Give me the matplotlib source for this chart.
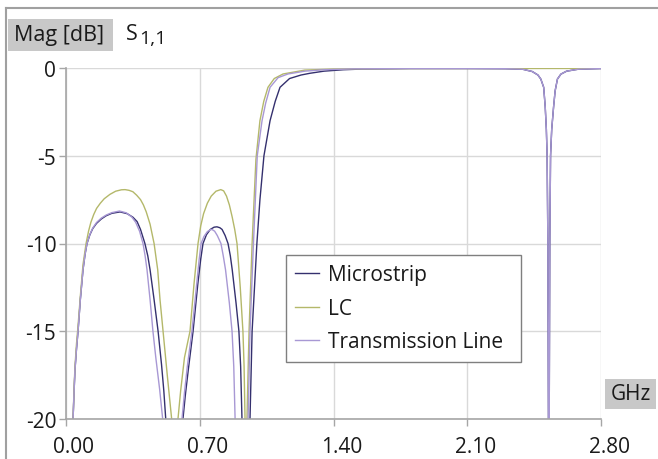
import matplotlib
matplotlib.use("Agg")
import matplotlib.pyplot as plt
from matplotlib.lines import Line2D
from matplotlib.patches import Rectangle
from matplotlib.ticker import FixedLocator, FormatStrFormatter
from matplotlib.transforms import ScaledTranslation

plt.rcParams['font.family'] = ['Open Sans', 'DejaVu Sans']
plt.rcParams['axes.unicode_minus'] = False

# ---------------- data (GHz, dB) ----------------
series_names = ["Microstrip", "LC", "Transmission Line"]

notch_f = [2.300, 2.390, 2.440, 2.470, 2.485, 2.500, 2.508, 2.514, 2.518, 2.522,
           2.525, 2.527, 2.529, 2.532, 2.536, 2.542, 2.552, 2.560, 2.572, 2.590,
           2.620, 2.680, 2.800]
notch_db = [-0.04, -0.07, -0.2, -0.4, -0.63, -1.1, -2.2, -3.5, -5.0, -10.0,
            -20.0, -40.0, -20.0, -10.0, -5.0, -3.5, -2.2, -1.3, -0.63, -0.35,
            -0.18, -0.07, -0.03]

ms_f = [0.000, 0.025, 0.037, 0.042, 0.047, 0.055, 0.063, 0.075, 0.089, 0.100,
        0.110, 0.125, 0.140, 0.160, 0.185, 0.210, 0.240, 0.283, 0.320, 0.350,
        0.372, 0.390, 0.413, 0.428, 0.440, 0.461, 0.482, 0.500, 0.512, 0.522,
        0.540, 0.565, 0.590,
        0.612, 0.625, 0.640, 0.665, 0.690, 0.705, 0.717, 0.735, 0.755, 0.775,
        0.790, 0.805, 0.817, 0.833, 0.848, 0.860, 0.870, 0.890, 0.905, 0.914,
        0.921, 0.935, 0.945, 0.955, 0.963, 0.974, 0.999, 1.015, 1.036, 1.068,
        1.095, 1.120, 1.170, 1.230, 1.277, 1.350, 1.450, 1.550, 1.800, 2.100] + notch_f
ms_db = [-45.0, -30.0, -20.0, -18.5, -17.2, -16.0, -15.0, -13.2, -11.5, -10.6,
         -10.0, -9.5, -9.15, -8.85, -8.6, -8.42, -8.28, -8.2, -8.3, -8.5,
         -8.75, -9.2, -10.0, -10.7, -11.5, -13.2, -15.0, -16.9, -18.4, -20.0,
         -28.0, -40.0, -28.0,
         -20.0, -18.6, -17.2, -15.0, -12.3, -10.9, -10.0, -9.5, -9.2, -9.07,
         -9.05, -9.1, -9.2, -9.55, -10.0, -10.7, -11.5, -13.4, -15.0, -17.0,
         -20.0, -30.0, -40.0, -30.0, -20.0, -15.0, -10.0, -7.5, -5.0, -3.0,
         -1.9, -1.1, -0.6, -0.4, -0.3, -0.18, -0.1, -0.06, -0.03, -0.03] + notch_db

tl_f = [0.000, 0.025, 0.037, 0.042, 0.047, 0.055, 0.063, 0.075, 0.089, 0.100,
        0.110, 0.125, 0.140, 0.160, 0.185, 0.210, 0.240, 0.280, 0.315, 0.345,
        0.365, 0.385, 0.403, 0.414, 0.424, 0.440, 0.455, 0.470, 0.490, 0.506,
        0.525, 0.555, 0.585,
        0.607, 0.620, 0.635, 0.659, 0.685, 0.697, 0.707, 0.722, 0.740, 0.755,
        0.764, 0.778, 0.792, 0.811, 0.823, 0.835, 0.855, 0.869, 0.878, 0.885,
        0.895, 0.905, 0.930, 0.953, 0.963, 0.981, 1.001, 1.026, 1.045,
        1.068, 1.110, 1.162, 1.250, 1.350, 1.500, 1.800, 2.100] + notch_f
tl_db = [-45.0, -30.0, -20.0, -18.5, -17.2, -16.0, -15.0, -13.2, -11.5, -10.6,
         -10.0, -9.48, -9.12, -8.8, -8.55, -8.38, -8.24, -8.15, -8.25, -8.5,
         -8.8, -9.3, -10.0, -10.7, -11.5, -13.2, -15.0, -16.5, -18.3, -20.0,
         -28.0, -40.0, -28.0,
         -20.0, -18.5, -17.0, -15.0, -12.2, -10.9, -10.0, -9.6, -9.32, -9.22,
         -9.2, -9.3, -9.55, -10.0, -10.7, -11.5, -13.4, -15.0, -17.0, -20.0,
         -30.0, -40.0, -30.0, -20.0, -15.0, -10.0, -5.0, -3.0, -2.0,
         -1.1, -0.55, -0.34, -0.18, -0.1, -0.05, -0.03, -0.03] + notch_db

lc_f = [0.000, 0.025, 0.037, 0.042, 0.047, 0.055, 0.063, 0.075, 0.089, 0.105,
        0.118, 0.130, 0.145, 0.160, 0.180, 0.200, 0.230, 0.260, 0.290, 0.309,
        0.330, 0.350, 0.370, 0.390, 0.405, 0.420, 0.440, 0.461, 0.480, 0.492,
        0.508, 0.530, 0.553, 0.560, 0.570, 0.578,
        0.586, 0.600, 0.620, 0.649, 0.670, 0.691, 0.705, 0.720, 0.740, 0.760,
        0.785, 0.810, 0.825, 0.840, 0.855, 0.870, 0.883, 0.895, 0.912, 0.926,
        0.932, 0.937, 0.940, 0.942, 0.944, 0.947, 0.958, 0.974, 0.994, 1.015,
        1.035, 1.057, 1.090, 1.136, 1.250, 1.397, 1.800, 2.800]
lc_db = [-45.0, -30.0, -20.0, -18.3, -17.0, -15.7, -14.7, -13.0, -11.2, -10.0,
         -9.3, -8.8, -8.35, -8.0, -7.7, -7.45, -7.2, -7.02, -6.94, -6.93,
         -6.97, -7.05, -7.25, -7.5, -7.8, -8.2, -8.9, -10.0, -11.5, -13.2,
         -15.0, -17.5, -20.0, -28.0, -40.0, -28.0,
         -20.0, -18.4, -16.5, -15.0, -12.3, -10.0, -9.0, -8.3, -7.7, -7.3,
         -7.02, -6.93, -7.0, -7.3, -7.8, -8.5, -9.2, -10.0, -12.5, -15.0,
         -17.0, -20.0, -30.0, -40.0, -30.0, -20.0, -15.0, -10.0, -5.2, -3.0,
         -1.9, -1.1, -0.6, -0.34, -0.12, -0.06, -0.03, -0.02]

x_ticks = [0.00, 0.70, 1.40, 2.10, 2.80]
y_ticks = [0, -5, -10, -15, -20]

colors = {"Microstrip": "#34306e", "LC": "#b4b86a", "Transmission Line": "#a898d4"}

# ---------------- figure ----------------
W, H = 658, 460
fig = plt.figure(figsize=(W / 100, H / 100), dpi=100)
fig.patch.set_facecolor("white")

def fx(px):
    return px / W

def fy(py):
    return 1 - py / H

ax = fig.add_axes([fx(66), fy(420), fx(601) - fx(66), fy(69) - fy(420)])
ax.set_xlim(0, 2.8)
ax.set_ylim(-20, 0)

for name, f, d in [("Microstrip", ms_f, ms_db), ("LC", lc_f, lc_db),
                   ("Transmission Line", tl_f, tl_db)]:
    ax.plot(f, d, color=colors[name], lw=1.0, label=name, clip_on=True)

ax.xaxis.set_major_locator(FixedLocator(x_ticks))
ax.yaxis.set_major_locator(FixedLocator(y_ticks))
ax.xaxis.set_major_formatter(FormatStrFormatter("%.2f"))
ax.yaxis.set_major_formatter(FormatStrFormatter("%d"))
ax.grid(True, color="#d9d9d9", lw=1.0)
ax.set_axisbelow(True)
for s in ["top", "right"]:
    ax.spines[s].set_visible(False)
ax.spines["left"].set_color("#a6a6a6")
ax.spines["bottom"].set_color("#a6a6a6")
ax.spines["left"].set_linewidth(1.2)
ax.spines["bottom"].set_linewidth(1.2)
ax.tick_params(axis="both", direction="out", length=5, width=1.0, color="#a6a6a6",
               labelsize=15, labelcolor="#1a1a1a")
ax.tick_params(axis="x", pad=7)
ax.tick_params(axis="y", pad=2)

shift = ScaledTranslation(8 / 100, 0, fig.dpi_scale_trans)
for lab in ax.get_xticklabels():
    lab.set_transform(lab.get_transform() + shift)

leg = ax.legend(loc="upper left",
                bbox_to_anchor=(fx(286), fy(362), fx(521) - fx(286), fy(256) - fy(362)),
                bbox_transform=fig.transFigure, mode="expand", fontsize=15,
                frameon=True, fancybox=False, framealpha=1, edgecolor="#7f7f7f",
                borderpad=0.45, labelspacing=0.6, handlelength=1.15,
                handletextpad=0.4, borderaxespad=0)
leg.get_frame().set_linewidth(1.0)
for t in leg.get_texts():
    t.set_color("#1a1a1a")

# header boxes
fig.patches.append(Rectangle((fx(8), fy(52)), fx(113) - fx(8), fy(20) - fy(52),
                             transform=fig.transFigure, facecolor="#c8c8c8",
                             edgecolor="none", zorder=1))
fig.text(fx(14), fy(36), "Mag [dB]", fontsize=15.5, color="#1a1a1a",
         ha="left", va="center", zorder=2)
fig.text(fx(126), fy(35), "S", fontsize=15.5, color="#1a1a1a", ha="left", va="center")
fig.text(fx(139), fy(39), "1,1", fontsize=14, color="#1a1a1a", ha="left", va="center")

fig.patches.append(Rectangle((fx(605), fy(410)), fx(656) - fx(605), fy(380) - fy(410),
                             transform=fig.transFigure, facecolor="#c8c8c8",
                             edgecolor="none", zorder=1))
fig.text(fx(630.5), fy(395), "GHz", fontsize=15, color="#1a1a1a",
         ha="center", va="center", zorder=2)

# outer frame lines (left and top)
fig.lines.append(Line2D([fx(6), fx(6)], [0, fy(9)], transform=fig.transFigure,
                        color="#a0a0a0", lw=1.5))
fig.lines.append(Line2D([fx(6), 1], [fy(9), fy(9)], transform=fig.transFigure,
                        color="#a0a0a0", lw=1.5))

fig.savefig("out.png", dpi=100)
